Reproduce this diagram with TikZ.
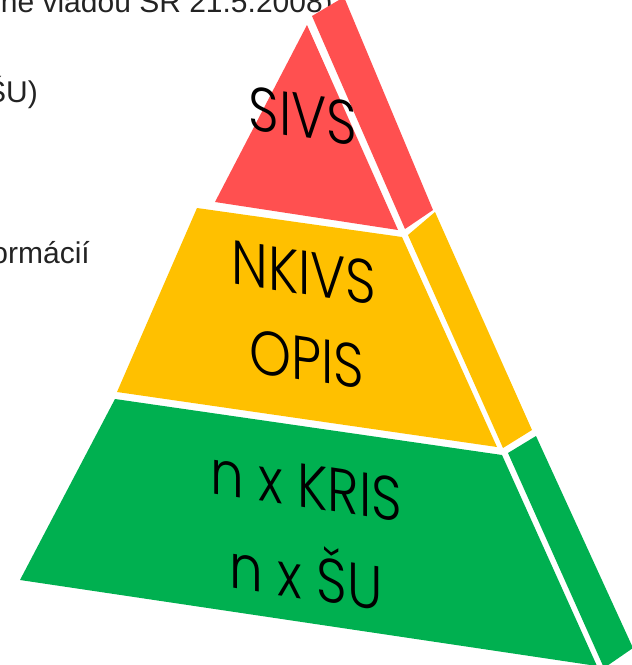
\documentclass[tikz,border=0pt]{standalone}
\usepackage{fontspec}
\setmainfont{Liberation Sans}
\newfontfamily\pyrfont{Poppins}[UprightFont=* Light]
\definecolor{pyrred}{RGB}{255,80,80}
\definecolor{pyryellow}{RGB}{255,192,0}
\definecolor{pyrgreen}{RGB}{0,176,80}
\definecolor{slidetext}{RGB}{35,35,35}
\tikzset{
  level/.style={font=\pyrfont\fontsize{62}{70}\selectfont, yslant=-0.15, xscale=0.86, inner sep=0pt},
  cut/.style={font=\fontsize{30}{34}\selectfont, text=slidetext, anchor=base east, inner sep=0pt}
}
\begin{document}
\begin{tikzpicture}[x=1pt,y=-1pt]
\useasboundingbox (0,0) rectangle (632,665);
\clip (0,0) rectangle (632,665);
\node[cut] (date) at (333,12) {ne vládou SR 21.5.2008)};
\node[cut] (su) at (38,102) {ŠU)};
\node[cut] (inf) at (90,263) {ormácií};

% top
\path[fill=pyrred] (307,25) -- (215,202) -- (398,230) -- cycle;
\path[fill=pyrred] (312,16) -- (344,-3) -- (433,210) -- (405,229) -- cycle;
% middle
\path[fill=pyryellow] (197,208) -- (402,237) -- (497,447) -- (117,392) -- cycle;
\path[fill=pyryellow] (408,235) -- (435,212) -- (532,430) -- (503,448) -- cycle;
% bottom
\path[fill=pyrgreen] (115,399) -- (502,455) -- (597,666) -- (20,580) -- cycle;
\path[fill=pyrgreen] (508,453) -- (536,436) -- (633,648) -- (604,668) -- cycle;

\node[level] (sivs) at (303,116) {SIVS};
\node[level] (nkivs) at (304,273) {NKIVS};
\node[level] (opis) at (307,359) {OPIS};
\node[level] (kris) at (306,486) {n x KRIS};
\node[level] (su2) at (306,572) {n x ŠU};
\end{tikzpicture}
\end{document}
